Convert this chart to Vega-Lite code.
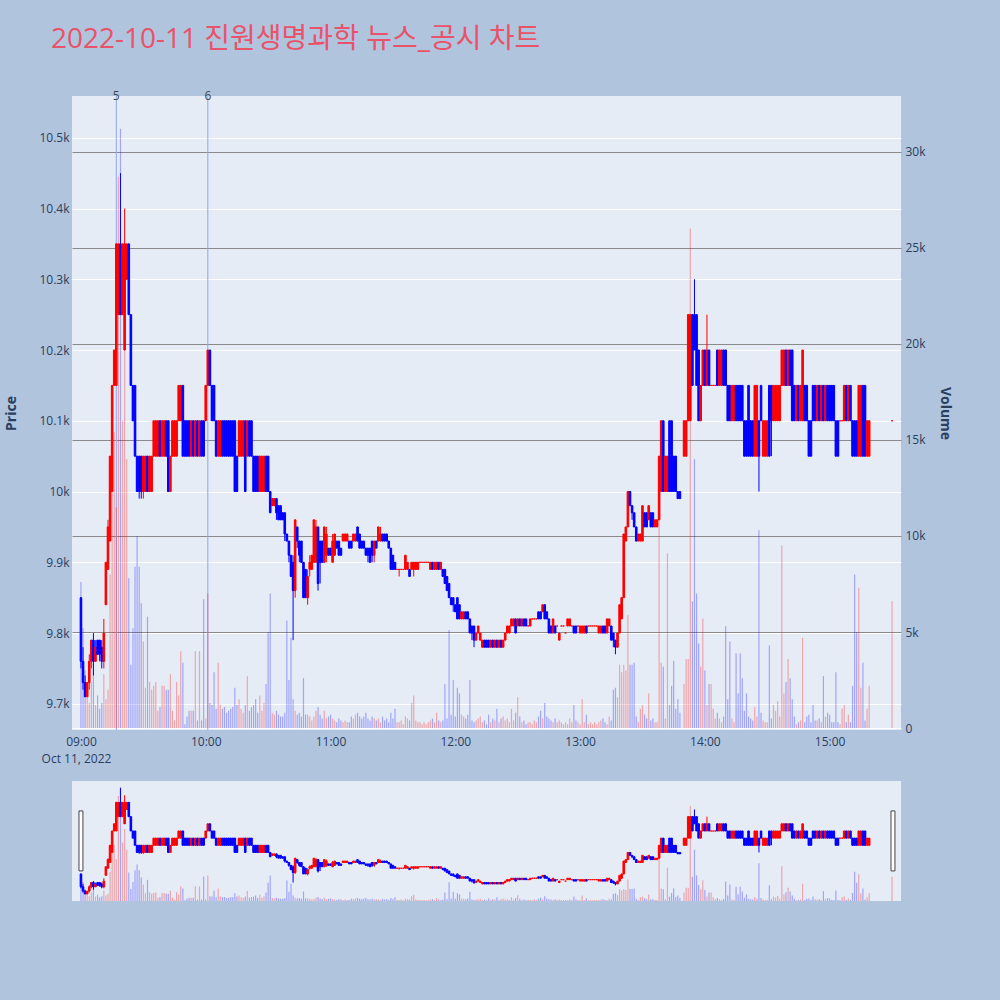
{
"$schema": "https://vega.github.io/schema/vega-lite/v6.json",
"background": "#B0C4DE",
"padding": {"left": 4, "top": 26, "right": 48, "bottom": 102},
"title": {"text": "2022-10-11 진원생명과학 뉴스_공시 차트", "anchor": "start", "fontSize": 28, "font": "Open Sans, Noto Sans CJK KR", "fontWeight": "normal", "color": "#E8536A", "dx": 46, "offset": 36},
"config": {"view": {"fill": "#E5ECF6", "stroke": null}, "font": "Open Sans", "axis": {"labelFont": "Open Sans", "labelFontSize": 12, "labelColor": "#2a3f5f", "titleColor": "#2a3f5f", "titleFont": "Open Sans", "ticks": false, "domain": false}},
"datasets": {
"candles": [
{"m":0,"o":9850,"h":9850,"l":9750,"c":9760,"v":7600},
{"m":1,"o":9760,"h":9780,"l":9720,"c":9730,"v":5200},
{"m":2,"o":9730,"h":9740,"l":9710,"c":9710,"v":3000},
{"m":3,"o":9710,"h":9730,"l":9710,"c":9730,"v":2000},
{"m":4,"o":9730,"h":9770,"l":9720,"c":9760,"v":1300},
{"m":5,"o":9760,"h":9790,"l":9750,"c":9790,"v":2400},
{"m":6,"o":9790,"h":9800,"l":9740,"c":9760,"v":3400},
{"m":7,"o":9760,"h":9790,"l":9760,"c":9780,"v":1200},
{"m":8,"o":9790,"h":9790,"l":9770,"c":9770,"v":1700},
{"m":9,"o":9790,"h":9790,"l":9760,"c":9770,"v":1000},
{"m":10,"o":9780,"h":9790,"l":9750,"c":9760,"v":1300},
{"m":11,"o":9760,"h":9820,"l":9750,"c":9800,"v":2800},
{"m":12,"o":9840,"h":9900,"l":9840,"c":9900,"v":1500},
{"m":13,"o":9890,"h":9960,"l":9890,"c":9950,"v":2000},
{"m":14,"o":9930,"h":10050,"l":9930,"c":10050,"v":8000},
{"m":15,"o":10000,"h":10150,"l":10000,"c":10150,"v":15600},
{"m":16,"o":10150,"h":10200,"l":10150,"c":10200,"v":15400},
{"m":17,"o":10150,"h":10350,"l":10150,"c":10350,"v":11500},
{"m":18,"o":10250,"h":10350,"l":10250,"c":10350,"v":28700},
{"m":19,"o":10350,"h":10450,"l":10250,"c":10250,"v":31200},
{"m":20,"o":10250,"h":10350,"l":10250,"c":10350,"v":16000},
{"m":21,"o":10200,"h":10400,"l":10200,"c":10350,"v":19700},
{"m":22,"o":10300,"h":10350,"l":10300,"c":10350,"v":14000},
{"m":23,"o":10350,"h":10350,"l":10250,"c":10250,"v":7800},
{"m":24,"o":10250,"h":10250,"l":10150,"c":10150,"v":3300},
{"m":25,"o":10150,"h":10150,"l":10100,"c":10100,"v":5200},
{"m":26,"o":10150,"h":10150,"l":10050,"c":10050,"v":8400},
{"m":27,"o":10050,"h":10050,"l":10000,"c":10000,"v":10000},
{"m":28,"o":10050,"h":10050,"l":9990,"c":10000,"v":8400},
{"m":29,"o":10050,"h":10050,"l":9990,"c":10000,"v":6500},
{"m":30,"o":10000,"h":10050,"l":9990,"c":10050,"v":4500},
{"m":31,"o":10000,"h":10050,"l":10000,"c":10050,"v":2100},
{"m":32,"o":10050,"h":10050,"l":10000,"c":10000,"v":5800},
{"m":33,"o":10000,"h":10050,"l":10000,"c":10050,"v":2400},
{"m":34,"o":10000,"h":10050,"l":10000,"c":10050,"v":2000},
{"m":35,"o":10050,"h":10100,"l":10050,"c":10100,"v":2200},
{"m":36,"o":10050,"h":10100,"l":10050,"c":10100,"v":2400},
{"m":37,"o":10050,"h":10100,"l":10050,"c":10100,"v":900},
{"m":38,"o":10100,"h":10100,"l":10050,"c":10050,"v":1100},
{"m":39,"o":10050,"h":10100,"l":10050,"c":10100,"v":2200},
{"m":40,"o":10050,"h":10100,"l":10050,"c":10100,"v":2200},
{"m":41,"o":10100,"h":10100,"l":10050,"c":10050,"v":2000},
{"m":42,"o":10100,"h":10100,"l":10000,"c":10000,"v":2000},
{"m":43,"o":10000,"h":10050,"l":10000,"c":10050,"v":2800},
{"m":44,"o":10050,"h":10100,"l":10050,"c":10100,"v":900},
{"m":45,"o":10050,"h":10100,"l":10050,"c":10100,"v":400},
{"m":46,"o":10050,"h":10100,"l":10050,"c":10100,"v":2400},
{"m":47,"o":10100,"h":10150,"l":10100,"c":10150,"v":1700},
{"m":48,"o":10100,"h":10150,"l":10100,"c":10150,"v":4000},
{"m":49,"o":10150,"h":10150,"l":10050,"c":10050,"v":3400},
{"m":50,"o":10100,"h":10100,"l":10050,"c":10050,"v":200},
{"m":51,"o":10100,"h":10100,"l":10050,"c":10050,"v":600},
{"m":52,"o":10100,"h":10100,"l":10050,"c":10050,"v":900},
{"m":53,"o":10050,"h":10100,"l":10050,"c":10100,"v":900},
{"m":54,"o":10100,"h":10100,"l":10050,"c":10050,"v":900},
{"m":55,"o":10050,"h":10100,"l":10050,"c":10100,"v":4000},
{"m":56,"o":10100,"h":10100,"l":10050,"c":10050,"v":400},
{"m":57,"o":10050,"h":10100,"l":10050,"c":10100,"v":4000},
{"m":58,"o":10100,"h":10100,"l":10050,"c":10050,"v":400},
{"m":59,"o":10100,"h":10100,"l":10050,"c":10050,"v":6700},
{"m":60,"o":10100,"h":10150,"l":10100,"c":10150,"v":500},
{"m":61,"o":10150,"h":10200,"l":10150,"c":10200,"v":7000},
{"m":62,"o":10200,"h":10200,"l":10150,"c":10150,"v":1300},
{"m":63,"o":10150,"h":10150,"l":10100,"c":10100,"v":1200},
{"m":64,"o":10150,"h":10150,"l":10100,"c":10100,"v":2900},
{"m":65,"o":10100,"h":10100,"l":10050,"c":10050,"v":1000},
{"m":66,"o":10050,"h":10100,"l":10050,"c":10100,"v":3400},
{"m":67,"o":10050,"h":10100,"l":10050,"c":10100,"v":1200},
{"m":68,"o":10100,"h":10100,"l":10050,"c":10050,"v":1000},
{"m":69,"o":10100,"h":10100,"l":10050,"c":10050,"v":1100},
{"m":70,"o":10100,"h":10100,"l":10050,"c":10050,"v":800},
{"m":71,"o":10100,"h":10100,"l":10050,"c":10050,"v":900},
{"m":72,"o":10100,"h":10100,"l":10050,"c":10050,"v":1000},
{"m":73,"o":10100,"h":10100,"l":10050,"c":10050,"v":1100},
{"m":74,"o":10100,"h":10100,"l":10000,"c":10000,"v":2100},
{"m":75,"o":10050,"h":10050,"l":10000,"c":10000,"v":1200},
{"m":76,"o":10050,"h":10100,"l":10050,"c":10100,"v":1500},
{"m":77,"o":10050,"h":10100,"l":10050,"c":10100,"v":1000},
{"m":78,"o":10050,"h":10100,"l":10050,"c":10100,"v":800},
{"m":79,"o":10100,"h":10100,"l":10000,"c":10000,"v":1200},
{"m":80,"o":10050,"h":10100,"l":10050,"c":10100,"v":2700},
{"m":81,"o":10100,"h":10100,"l":10050,"c":10050,"v":900},
{"m":82,"o":10100,"h":10100,"l":10050,"c":10050,"v":1100},
{"m":83,"o":10050,"h":10050,"l":10000,"c":10000,"v":1200},
{"m":84,"o":10050,"h":10050,"l":10000,"c":10000,"v":1500},
{"m":85,"o":10050,"h":10050,"l":10000,"c":10000,"v":800},
{"m":86,"o":10000,"h":10050,"l":10000,"c":10050,"v":1700},
{"m":87,"o":10000,"h":10050,"l":10000,"c":10050,"v":900},
{"m":88,"o":10000,"h":10050,"l":10000,"c":10050,"v":1300},
{"m":89,"o":10050,"h":10050,"l":10000,"c":10000,"v":2300},
{"m":90,"o":10050,"h":10050,"l":10000,"c":10000,"v":5000},
{"m":91,"o":10000,"h":10000,"l":9970,"c":9970,"v":7000},
{"m":92,"o":9980,"h":9990,"l":9980,"c":9990,"v":800},
{"m":93,"o":9980,"h":9990,"l":9980,"c":9990,"v":700},
{"m":94,"o":9990,"h":9990,"l":9960,"c":9970,"v":900},
{"m":95,"o":9980,"h":9980,"l":9960,"c":9960,"v":700},
{"m":96,"o":9980,"h":9980,"l":9960,"c":9960,"v":600},
{"m":97,"o":9970,"h":9970,"l":9960,"c":9960,"v":600},
{"m":98,"o":9970,"h":9970,"l":9930,"c":9940,"v":800},
{"m":99,"o":9940,"h":9940,"l":9930,"c":9930,"v":5600},
{"m":100,"o":9930,"h":9930,"l":9900,"c":9910,"v":2500},
{"m":101,"o":9910,"h":9910,"l":9880,"c":9880,"v":4700},
{"m":102,"o":9900,"h":9910,"l":9790,"c":9860,"v":1500},
{"m":103,"o":9860,"h":9960,"l":9850,"c":9960,"v":900},
{"m":104,"o":9950,"h":9950,"l":9920,"c":9930,"v":700},
{"m":105,"o":9930,"h":9930,"l":9900,"c":9910,"v":800},
{"m":106,"o":9930,"h":9930,"l":9900,"c":9900,"v":600},
{"m":107,"o":9900,"h":9900,"l":9850,"c":9850,"v":2600},
{"m":108,"o":9890,"h":9890,"l":9850,"c":9850,"v":700},
{"m":109,"o":9850,"h":9890,"l":9840,"c":9880,"v":700},
{"m":110,"o":9890,"h":9910,"l":9880,"c":9900,"v":600},
{"m":111,"o":9890,"h":9910,"l":9890,"c":9910,"v":400},
{"m":112,"o":9900,"h":9960,"l":9900,"c":9960,"v":600},
{"m":113,"o":9900,"h":9960,"l":9900,"c":9950,"v":900},
{"m":114,"o":9950,"h":9950,"l":9860,"c":9870,"v":1100},
{"m":115,"o":9930,"h":9930,"l":9870,"c":9900,"v":700},
{"m":116,"o":9930,"h":9930,"l":9900,"c":9900,"v":500},
{"m":117,"o":9900,"h":9950,"l":9900,"c":9950,"v":900},
{"m":118,"o":9910,"h":9950,"l":9900,"c":9940,"v":500},
{"m":119,"o":9920,"h":9920,"l":9910,"c":9910,"v":600},
{"m":120,"o":9920,"h":9920,"l":9910,"c":9910,"v":700},
{"m":121,"o":9900,"h":9940,"l":9900,"c":9930,"v":500},
{"m":122,"o":9910,"h":9940,"l":9910,"c":9940,"v":400},
{"m":123,"o":9930,"h":9930,"l":9920,"c":9920,"v":300},
{"m":124,"o":9930,"h":9930,"l":9910,"c":9910,"v":500},
{"m":125,"o":9920,"h":9920,"l":9910,"c":9910,"v":400},
{"m":126,"o":9930,"h":9940,"l":9930,"c":9940,"v":300},
{"m":127,"o":9930,"h":9940,"l":9930,"c":9940,"v":400},
{"m":128,"o":9930,"h":9940,"l":9930,"c":9940,"v":300},
{"m":129,"o":9930,"h":9930,"l":9920,"c":9920,"v":300},
{"m":130,"o":9930,"h":9930,"l":9920,"c":9920,"v":600},
{"m":131,"o":9930,"h":9940,"l":9930,"c":9940,"v":500},
{"m":132,"o":9930,"h":9940,"l":9930,"c":9940,"v":700},
{"m":133,"o":9950,"h":9950,"l":9930,"c":9930,"v":800},
{"m":134,"o":9940,"h":9940,"l":9920,"c":9920,"v":600},
{"m":135,"o":9930,"h":9930,"l":9920,"c":9920,"v":500},
{"m":136,"o":9930,"h":9930,"l":9920,"c":9920,"v":600},
{"m":137,"o":9920,"h":9920,"l":9910,"c":9910,"v":800},
{"m":138,"o":9920,"h":9920,"l":9900,"c":9910,"v":500},
{"m":139,"o":9920,"h":9920,"l":9900,"c":9900,"v":400},
{"m":140,"o":9930,"h":9930,"l":9900,"c":9910,"v":600},
{"m":141,"o":9910,"h":9930,"l":9900,"c":9930,"v":500},
{"m":142,"o":9930,"h":9930,"l":9920,"c":9920,"v":400},
{"m":143,"o":9930,"h":9950,"l":9930,"c":9950,"v":500},
{"m":144,"o":9930,"h":9950,"l":9930,"c":9940,"v":300},
{"m":145,"o":9940,"h":9940,"l":9930,"c":9930,"v":600},
{"m":146,"o":9940,"h":9940,"l":9930,"c":9930,"v":400},
{"m":147,"o":9940,"h":9940,"l":9930,"c":9930,"v":500},
{"m":148,"o":9930,"h":9930,"l":9920,"c":9920,"v":300},
{"m":149,"o":9920,"h":9920,"l":9890,"c":9890,"v":800},
{"m":150,"o":9910,"h":9910,"l":9890,"c":9890,"v":500},
{"m":151,"o":9900,"h":9900,"l":9890,"c":9890,"v":1000},
{"m":152,"o":9890,"h":9890,"l":9890,"c":9890,"v":300},
{"m":153,"o":9890,"h":9890,"l":9880,"c":9890,"v":300},
{"m":154,"o":9890,"h":9890,"l":9890,"c":9890,"v":400},
{"m":155,"o":9890,"h":9890,"l":9890,"c":9890,"v":200},
{"m":156,"o":9890,"h":9910,"l":9890,"c":9910,"v":600},
{"m":157,"o":9890,"h":9900,"l":9890,"c":9900,"v":500},
{"m":158,"o":9890,"h":9890,"l":9880,"c":9880,"v":400},
{"m":159,"o":9890,"h":9900,"l":9890,"c":9900,"v":1300},
{"m":160,"o":9890,"h":9900,"l":9880,"c":9900,"v":1700},
{"m":161,"o":9890,"h":9900,"l":9890,"c":9900,"v":400},
{"m":162,"o":9890,"h":9900,"l":9890,"c":9900,"v":300},
{"m":163,"o":9900,"h":9900,"l":9900,"c":9900,"v":300},
{"m":164,"o":9900,"h":9900,"l":9900,"c":9900,"v":200},
{"m":165,"o":9900,"h":9900,"l":9900,"c":9900,"v":300},
{"m":166,"o":9900,"h":9900,"l":9900,"c":9900,"v":200},
{"m":167,"o":9900,"h":9900,"l":9900,"c":9900,"v":300},
{"m":168,"o":9890,"h":9900,"l":9890,"c":9900,"v":400},
{"m":169,"o":9900,"h":9900,"l":9890,"c":9890,"v":500},
{"m":170,"o":9890,"h":9900,"l":9890,"c":9900,"v":300},
{"m":171,"o":9890,"h":9900,"l":9890,"c":9900,"v":800},
{"m":172,"o":9900,"h":9900,"l":9890,"c":9890,"v":400},
{"m":173,"o":9890,"h":9900,"l":9890,"c":9900,"v":300},
{"m":174,"o":9890,"h":9890,"l":9880,"c":9880,"v":400},
{"m":175,"o":9890,"h":9890,"l":9870,"c":9870,"v":2300},
{"m":176,"o":9880,"h":9880,"l":9860,"c":9860,"v":500},
{"m":177,"o":9870,"h":9870,"l":9850,"c":9850,"v":5100},
{"m":178,"o":9850,"h":9850,"l":9840,"c":9840,"v":700},
{"m":179,"o":9850,"h":9850,"l":9830,"c":9840,"v":2500},
{"m":180,"o":9840,"h":9840,"l":9830,"c":9830,"v":600},
{"m":181,"o":9850,"h":9850,"l":9820,"c":9820,"v":2100},
{"m":182,"o":9840,"h":9840,"l":9820,"c":9820,"v":1800},
{"m":183,"o":9820,"h":9830,"l":9820,"c":9830,"v":700},
{"m":184,"o":9820,"h":9830,"l":9820,"c":9830,"v":600},
{"m":185,"o":9830,"h":9830,"l":9820,"c":9820,"v":500},
{"m":186,"o":9830,"h":9830,"l":9820,"c":9820,"v":700},
{"m":187,"o":9820,"h":9820,"l":9800,"c":9800,"v":2500},
{"m":188,"o":9810,"h":9810,"l":9790,"c":9800,"v":400},
{"m":189,"o":9810,"h":9810,"l":9780,"c":9790,"v":300},
{"m":190,"o":9790,"h":9800,"l":9790,"c":9800,"v":400},
{"m":191,"o":9800,"h":9810,"l":9800,"c":9810,"v":500},
{"m":192,"o":9790,"h":9800,"l":9790,"c":9800,"v":600},
{"m":193,"o":9780,"h":9790,"l":9780,"c":9790,"v":300},
{"m":194,"o":9790,"h":9790,"l":9780,"c":9780,"v":400},
{"m":195,"o":9790,"h":9790,"l":9780,"c":9780,"v":200},
{"m":196,"o":9790,"h":9790,"l":9780,"c":9780,"v":700},
{"m":197,"o":9780,"h":9790,"l":9780,"c":9790,"v":300},
{"m":198,"o":9790,"h":9790,"l":9780,"c":9780,"v":500},
{"m":199,"o":9780,"h":9790,"l":9780,"c":9790,"v":400},
{"m":200,"o":9790,"h":9790,"l":9780,"c":9780,"v":1000},
{"m":201,"o":9780,"h":9790,"l":9780,"c":9790,"v":300},
{"m":202,"o":9790,"h":9790,"l":9780,"c":9780,"v":500},
{"m":203,"o":9780,"h":9790,"l":9780,"c":9790,"v":600},
{"m":204,"o":9790,"h":9800,"l":9790,"c":9800,"v":400},
{"m":205,"o":9800,"h":9810,"l":9800,"c":9810,"v":500},
{"m":206,"o":9800,"h":9810,"l":9800,"c":9810,"v":300},
{"m":207,"o":9810,"h":9820,"l":9810,"c":9820,"v":1000},
{"m":208,"o":9810,"h":9820,"l":9810,"c":9820,"v":400},
{"m":209,"o":9820,"h":9820,"l":9800,"c":9800,"v":800},
{"m":210,"o":9810,"h":9820,"l":9810,"c":9820,"v":1600},
{"m":211,"o":9820,"h":9820,"l":9810,"c":9810,"v":600},
{"m":212,"o":9810,"h":9820,"l":9810,"c":9820,"v":300},
{"m":213,"o":9820,"h":9820,"l":9810,"c":9810,"v":400},
{"m":214,"o":9820,"h":9820,"l":9810,"c":9810,"v":200},
{"m":215,"o":9810,"h":9810,"l":9810,"c":9810,"v":300},
{"m":216,"o":9810,"h":9820,"l":9810,"c":9820,"v":300},
{"m":217,"o":9820,"h":9820,"l":9820,"c":9820,"v":200},
{"m":218,"o":9820,"h":9820,"l":9820,"c":9820,"v":400},
{"m":219,"o":9820,"h":9820,"l":9820,"c":9820,"v":300},
{"m":220,"o":9830,"h":9830,"l":9820,"c":9820,"v":600},
{"m":221,"o":9830,"h":9830,"l":9820,"c":9820,"v":900},
{"m":222,"o":9830,"h":9840,"l":9830,"c":9840,"v":500},
{"m":223,"o":9840,"h":9840,"l":9820,"c":9820,"v":1300},
{"m":224,"o":9830,"h":9830,"l":9820,"c":9820,"v":600},
{"m":225,"o":9820,"h":9820,"l":9800,"c":9800,"v":500},
{"m":226,"o":9810,"h":9810,"l":9800,"c":9800,"v":400},
{"m":227,"o":9800,"h":9820,"l":9800,"c":9820,"v":300},
{"m":228,"o":9810,"h":9810,"l":9800,"c":9800,"v":500},
{"m":229,"o":9810,"h":9810,"l":9810,"c":9810,"v":300},
{"m":230,"o":9790,"h":9800,"l":9790,"c":9800,"v":400},
{"m":231,"o":9810,"h":9810,"l":9810,"c":9810,"v":300},
{"m":232,"o":9810,"h":9810,"l":9810,"c":9810,"v":200},
{"m":233,"o":9800,"h":9800,"l":9800,"c":9800,"v":300},
{"m":234,"o":9810,"h":9820,"l":9810,"c":9820,"v":200},
{"m":235,"o":9810,"h":9820,"l":9810,"c":9820,"v":500},
{"m":236,"o":9810,"h":9810,"l":9810,"c":9810,"v":300},
{"m":237,"o":9810,"h":9810,"l":9800,"c":9800,"v":1200},
{"m":238,"o":9810,"h":9810,"l":9800,"c":9800,"v":400},
{"m":239,"o":9810,"h":9810,"l":9810,"c":9810,"v":300},
{"m":240,"o":9800,"h":9810,"l":9800,"c":9810,"v":200},
{"m":241,"o":9800,"h":9810,"l":9800,"c":9810,"v":1500},
{"m":242,"o":9800,"h":9810,"l":9800,"c":9810,"v":300},
{"m":243,"o":9810,"h":9810,"l":9800,"c":9800,"v":700},
{"m":244,"o":9810,"h":9810,"l":9810,"c":9810,"v":200},
{"m":245,"o":9810,"h":9810,"l":9810,"c":9810,"v":300},
{"m":246,"o":9810,"h":9810,"l":9810,"c":9810,"v":200},
{"m":247,"o":9810,"h":9810,"l":9810,"c":9810,"v":300},
{"m":248,"o":9810,"h":9810,"l":9810,"c":9810,"v":200},
{"m":249,"o":9800,"h":9810,"l":9800,"c":9810,"v":300},
{"m":250,"o":9800,"h":9810,"l":9800,"c":9810,"v":400},
{"m":251,"o":9810,"h":9810,"l":9800,"c":9800,"v":500},
{"m":252,"o":9810,"h":9810,"l":9800,"c":9800,"v":300},
{"m":253,"o":9800,"h":9820,"l":9800,"c":9820,"v":200},
{"m":254,"o":9810,"h":9820,"l":9810,"c":9820,"v":600},
{"m":255,"o":9810,"h":9810,"l":9790,"c":9790,"v":400},
{"m":256,"o":9800,"h":9800,"l":9780,"c":9790,"v":2000},
{"m":257,"o":9790,"h":9790,"l":9770,"c":9780,"v":2100},
{"m":258,"o":9780,"h":9800,"l":9780,"c":9800,"v":1600},
{"m":259,"o":9800,"h":9840,"l":9800,"c":9840,"v":3300},
{"m":260,"o":9820,"h":9850,"l":9820,"c":9850,"v":2900},
{"m":261,"o":9850,"h":9940,"l":9850,"c":9940,"v":3300},
{"m":262,"o":9930,"h":9950,"l":9930,"c":9950,"v":3000},
{"m":263,"o":9950,"h":10000,"l":9950,"c":10000,"v":5900},
{"m":264,"o":10000,"h":10000,"l":9980,"c":9980,"v":3300},
{"m":265,"o":9980,"h":9980,"l":9960,"c":9970,"v":3300},
{"m":266,"o":9970,"h":9970,"l":9950,"c":9950,"v":3400},
{"m":267,"o":9950,"h":9950,"l":9930,"c":9930,"v":600},
{"m":268,"o":9930,"h":9940,"l":9930,"c":9940,"v":300},
{"m":269,"o":9930,"h":9940,"l":9930,"c":9940,"v":1000},
{"m":270,"o":9930,"h":9980,"l":9930,"c":9980,"v":1200},
{"m":271,"o":9970,"h":9970,"l":9950,"c":9950,"v":700},
{"m":272,"o":9970,"h":9970,"l":9950,"c":9950,"v":500},
{"m":273,"o":9960,"h":9980,"l":9960,"c":9980,"v":1800},
{"m":274,"o":9970,"h":9970,"l":9950,"c":9950,"v":400},
{"m":275,"o":9970,"h":9970,"l":9950,"c":9950,"v":500},
{"m":276,"o":9950,"h":9960,"l":9950,"c":9960,"v":300},
{"m":277,"o":9950,"h":9960,"l":9950,"c":9960,"v":300},
{"m":278,"o":9960,"h":10050,"l":9960,"c":10050,"v":14100},
{"m":279,"o":10000,"h":10100,"l":10000,"c":10100,"v":3400},
{"m":280,"o":10100,"h":10100,"l":10000,"c":10000,"v":3200},
{"m":281,"o":10000,"h":10050,"l":10000,"c":10050,"v":500},
{"m":282,"o":10000,"h":10050,"l":10000,"c":10050,"v":9100},
{"m":283,"o":10100,"h":10100,"l":10000,"c":10000,"v":1200},
{"m":284,"o":10100,"h":10100,"l":10000,"c":10000,"v":2200},
{"m":285,"o":10050,"h":10050,"l":10000,"c":10000,"v":3500},
{"m":286,"o":10050,"h":10050,"l":10000,"c":10000,"v":1000},
{"m":287,"o":10000,"h":10000,"l":9990,"c":9990,"v":1500},
{"m":288,"o":10000,"h":10000,"l":9990,"c":9990,"v":800},
{"m":290,"o":10050,"h":10100,"l":10050,"c":10100,"v":2300},
{"m":291,"o":10050,"h":10100,"l":10050,"c":10100,"v":3600},
{"m":292,"o":10100,"h":10250,"l":10100,"c":10250,"v":3600},
{"m":293,"o":10100,"h":10250,"l":10100,"c":10250,"v":26000},
{"m":294,"o":10250,"h":10250,"l":10150,"c":10150,"v":6600},
{"m":295,"o":10250,"h":10300,"l":10200,"c":10200,"v":14000},
{"m":296,"o":10250,"h":10250,"l":10150,"c":10150,"v":7000},
{"m":297,"o":10200,"h":10200,"l":10100,"c":10100,"v":4400},
{"m":298,"o":10100,"h":10150,"l":10100,"c":10150,"v":3200},
{"m":299,"o":10150,"h":10200,"l":10150,"c":10200,"v":5700},
{"m":300,"o":10200,"h":10200,"l":10150,"c":10150,"v":3000},
{"m":301,"o":10150,"h":10250,"l":10150,"c":10200,"v":1200},
{"m":302,"o":10200,"h":10200,"l":10150,"c":10150,"v":2300},
{"m":303,"o":10150,"h":10150,"l":10150,"c":10150,"v":2300},
{"m":304,"o":10150,"h":10150,"l":10150,"c":10150,"v":1000},
{"m":305,"o":10150,"h":10150,"l":10150,"c":10150,"v":500},
{"m":306,"o":10200,"h":10200,"l":10150,"c":10150,"v":800},
{"m":307,"o":10150,"h":10200,"l":10150,"c":10200,"v":500},
{"m":308,"o":10150,"h":10200,"l":10150,"c":10200,"v":300},
{"m":309,"o":10200,"h":10200,"l":10150,"c":10150,"v":600},
{"m":310,"o":10200,"h":10200,"l":10150,"c":10150,"v":5300},
{"m":311,"o":10150,"h":10150,"l":10100,"c":10100,"v":1500},
{"m":312,"o":10150,"h":10150,"l":10100,"c":10100,"v":4500},
{"m":313,"o":10100,"h":10150,"l":10100,"c":10150,"v":500},
{"m":314,"o":10100,"h":10150,"l":10100,"c":10150,"v":300},
{"m":315,"o":10150,"h":10150,"l":10100,"c":10100,"v":3900},
{"m":316,"o":10150,"h":10150,"l":10100,"c":10100,"v":1800},
{"m":317,"o":10150,"h":10150,"l":10100,"c":10100,"v":3900},
{"m":318,"o":10150,"h":10150,"l":10100,"c":10100,"v":2600},
{"m":319,"o":10100,"h":10100,"l":10050,"c":10050,"v":900},
{"m":320,"o":10100,"h":10100,"l":10050,"c":10050,"v":1800},
{"m":321,"o":10150,"h":10150,"l":10050,"c":10050,"v":600},
{"m":322,"o":10100,"h":10100,"l":10050,"c":10050,"v":500},
{"m":323,"o":10100,"h":10100,"l":10050,"c":10050,"v":400},
{"m":324,"o":10050,"h":10150,"l":10050,"c":10150,"v":1100},
{"m":325,"o":10050,"h":10150,"l":10050,"c":10150,"v":600},
{"m":326,"o":10100,"h":10100,"l":10000,"c":10050,"v":10300},
{"m":327,"o":10150,"h":10150,"l":10100,"c":10100,"v":800},
{"m":328,"o":10050,"h":10100,"l":10050,"c":10100,"v":400},
{"m":329,"o":10050,"h":10100,"l":10050,"c":10100,"v":300},
{"m":330,"o":10050,"h":10100,"l":10050,"c":10100,"v":300},
{"m":331,"o":10150,"h":10150,"l":10050,"c":10050,"v":4300},
{"m":332,"o":10150,"h":10150,"l":10050,"c":10100,"v":500},
{"m":333,"o":10100,"h":10150,"l":10100,"c":10150,"v":1200},
{"m":334,"o":10100,"h":10150,"l":10100,"c":10150,"v":900},
{"m":335,"o":10100,"h":10150,"l":10100,"c":10150,"v":1400},
{"m":336,"o":10100,"h":10150,"l":10100,"c":10150,"v":600},
{"m":337,"o":10150,"h":10200,"l":10150,"c":10200,"v":9500},
{"m":338,"o":10150,"h":10200,"l":10150,"c":10200,"v":1800},
{"m":339,"o":10200,"h":10200,"l":10150,"c":10150,"v":2400},
{"m":340,"o":10150,"h":10200,"l":10150,"c":10200,"v":3600},
{"m":341,"o":10200,"h":10200,"l":10150,"c":10150,"v":2600},
{"m":342,"o":10200,"h":10200,"l":10100,"c":10100,"v":1500},
{"m":343,"o":10150,"h":10150,"l":10100,"c":10100,"v":600},
{"m":344,"o":10100,"h":10150,"l":10100,"c":10150,"v":200},
{"m":345,"o":10150,"h":10150,"l":10100,"c":10100,"v":300},
{"m":346,"o":10100,"h":10150,"l":10100,"c":10150,"v":400},
{"m":347,"o":10100,"h":10200,"l":10100,"c":10200,"v":4700},
{"m":348,"o":10150,"h":10150,"l":10100,"c":10100,"v":300},
{"m":349,"o":10150,"h":10150,"l":10100,"c":10100,"v":600},
{"m":350,"o":10100,"h":10100,"l":10050,"c":10050,"v":700},
{"m":351,"o":10100,"h":10100,"l":10050,"c":10050,"v":300},
{"m":352,"o":10150,"h":10150,"l":10100,"c":10100,"v":1200},
{"m":353,"o":10150,"h":10150,"l":10100,"c":10100,"v":400},
{"m":354,"o":10100,"h":10150,"l":10100,"c":10150,"v":400},
{"m":355,"o":10150,"h":10150,"l":10100,"c":10100,"v":500},
{"m":356,"o":10100,"h":10150,"l":10100,"c":10150,"v":300},
{"m":357,"o":10150,"h":10150,"l":10100,"c":10100,"v":2700},
{"m":358,"o":10100,"h":10150,"l":10100,"c":10150,"v":600},
{"m":359,"o":10150,"h":10150,"l":10100,"c":10100,"v":800},
{"m":360,"o":10150,"h":10150,"l":10100,"c":10100,"v":700},
{"m":361,"o":10150,"h":10150,"l":10100,"c":10100,"v":300},
{"m":362,"o":10150,"h":10150,"l":10100,"c":10100,"v":300},
{"m":363,"o":10100,"h":10100,"l":10050,"c":10050,"v":2900},
{"m":364,"o":10100,"h":10100,"l":10050,"c":10050,"v":300},
{"m":365,"o":10100,"h":10100,"l":10100,"c":10100,"v":200},
{"m":366,"o":10100,"h":10100,"l":10100,"c":10100,"v":1000},
{"m":367,"o":10100,"h":10150,"l":10100,"c":10150,"v":1200},
{"m":368,"o":10150,"h":10150,"l":10100,"c":10100,"v":300},
{"m":369,"o":10100,"h":10150,"l":10100,"c":10150,"v":700},
{"m":370,"o":10150,"h":10150,"l":10100,"c":10100,"v":300},
{"m":371,"o":10100,"h":10100,"l":10050,"c":10050,"v":2200},
{"m":372,"o":10100,"h":10100,"l":10050,"c":10050,"v":8000},
{"m":373,"o":10100,"h":10100,"l":10050,"c":10050,"v":5000},
{"m":374,"o":10050,"h":10150,"l":10050,"c":10150,"v":7300},
{"m":375,"o":10050,"h":10150,"l":10050,"c":10150,"v":2100},
{"m":376,"o":10150,"h":10150,"l":10050,"c":10050,"v":3400},
{"m":377,"o":10150,"h":10150,"l":10050,"c":10050,"v":400},
{"m":378,"o":10050,"h":10100,"l":10050,"c":10100,"v":1000},
{"m":379,"o":10050,"h":10100,"l":10050,"c":10100,"v":2200},
{"m":390,"o":10100,"h":10100,"l":10100,"c":10100,"v":6600}
],
"news": [{"m":17,"n":"5"},{"m":61,"n":"6"}]
},
"vconcat": [
{
"width": 829, "height": 634,
"layer": [
{
"layer": [
{"data": {"name": "news"}, "mark": {"type": "rule", "color": "#8FA4F0", "strokeWidth": 1},
 "encoding": {"x": {"field": "m", "type": "quantitative", "scale": {"domain": [-1.9, 391.9], "nice": false, "zero": false}}}},
{"data": {"name": "news"}, "mark": {"type": "text", "fontSize": 12, "color": "#444444", "baseline": "middle", "font": "Open Sans"},
 "encoding": {"x": {"field": "m", "type": "quantitative", "scale": {"domain": [-1.9, 391.9], "nice": false, "zero": false}},
  "y": {"datum": 10559, "type": "quantitative", "scale": {"domain": [9663, 10559], "zero": false, "nice": false}}, "text": {"field": "n"}}},
{"data": {"name": "candles"}, "mark": {"type": "rule", "strokeWidth": 1},
 "encoding": {
  "x": {"field": "m", "type": "quantitative", "scale": {"domain": [-1.9, 391.9], "nice": false, "zero": false},
   "axis": {"title": "Oct 11, 2022", "titleAnchor": "start", "titleAlign": "center", "titleX": 4, "titleY": 23, "titleBaseline": "top", "titleFontSize": 12, "titleFontWeight": "normal", "grid": false, "values": [0,60,120,180,240,300,360], "labelExpr": "(datum.value < 60 ? '0' : '') + (datum.value / 60 + 9) + ':00'", "labelPadding": 6, "labelBaseline": "top"}},
  "y": {"field": "l", "type": "quantitative", "scale": {"domain": [9663, 10559], "zero": false, "nice": false},
   "axis": {"title": "Price", "orient": "left", "grid": true, "values": [9700,9800,9900,10000,10100,10200,10300,10400,10500], "labelExpr": "datum.value / 1000 + 'k'", "gridColor": "#FFFFFF", "gridWidth": 1, "gridOpacity": 1, "labelPadding": 3, "titlePadding": 20, "titleFontSize": 14, "titleFontWeight": "bold"}},
  "y2": {"field": "h"},
  "color": {"condition": {"test": "datum.c >= datum.o", "value": "#FF0000"}, "value": "#0000FF"}
 }},
{"data": {"name": "candles"}, "mark": {"type": "bar", "size": 1.6, "strokeWidth": 1},
 "encoding": {
  "x": {"field": "m", "type": "quantitative", "scale": {"domain": [-1.9, 391.9], "nice": false, "zero": false}},
  "y": {"field": "o", "type": "quantitative", "scale": {"domain": [9663, 10559], "zero": false, "nice": false}},
  "y2": {"field": "c"},
  "color": {"condition": {"test": "datum.c >= datum.o", "value": "#FF0000"}, "value": "#0000FF"},
  "stroke": {"condition": {"test": "datum.c >= datum.o", "value": "#FF0000"}, "value": "#0000FF"}
 }}
]
},
{"data": {"name": "candles"}, "mark": {"type": "bar", "size": 1.2, "opacity": 0.3},
 "encoding": {
  "x": {"field": "m", "type": "quantitative", "scale": {"domain": [-1.9, 391.9], "nice": false, "zero": false}},
  "y": {"field": "v", "type": "quantitative", "scale": {"domain": [-100, 32900], "nice": false, "zero": false},
   "axis": {"title": "Volume", "orient": "right", "grid": true, "values": [0,5000,10000,15000,20000,25000,30000], "labelExpr": "datum.value == 0 ? '0' : datum.value / 1000 + 'k'", "gridColor": {"condition": {"test": "datum.value === 0", "value": "#FFFFFF"}, "value": "#8A8A8A"}, "gridWidth": 1, "gridOpacity": 1, "labelPadding": 4, "titlePadding": 12, "titleFontSize": 14, "titleFontWeight": "bold"}},
  "color": {"condition": {"test": "datum.c >= datum.o", "value": "#FF0000"}, "value": "#0000FF"}
 }}
],
"resolve": {"scale": {"y": "independent"}}
},
{
"width": 829, "height": 120,
"layer": [
{
"layer": [
{"data": {"name": "candles"}, "mark": {"type": "rule", "strokeWidth": 1},
 "encoding": {
  "x": {"field": "m", "type": "quantitative", "scale": {"domain": [-1.9, 391.9], "nice": false, "zero": false}, "axis": null},
  "y": {"field": "l", "type": "quantitative", "scale": {"domain": [9661, 10499], "zero": false, "nice": false}, "axis": null},
  "y2": {"field": "h"},
  "color": {"condition": {"test": "datum.c >= datum.o", "value": "#FF0000"}, "value": "#0000FF"}
 }},
{"data": {"name": "candles"}, "mark": {"type": "bar", "size": 1.6, "strokeWidth": 1},
 "encoding": {
  "x": {"field": "m", "type": "quantitative", "scale": {"domain": [-1.9, 391.9], "nice": false, "zero": false}, "axis": null},
  "y": {"field": "o", "type": "quantitative", "scale": {"domain": [9661, 10499], "zero": false, "nice": false}, "axis": null},
  "y2": {"field": "c"},
  "color": {"condition": {"test": "datum.c >= datum.o", "value": "#FF0000"}, "value": "#0000FF"},
  "stroke": {"condition": {"test": "datum.c >= datum.o", "value": "#FF0000"}, "value": "#0000FF"}
 }},
{"data": {"values": [{}]}, "mark": {"type": "rect", "fill": "#FFFFFF", "stroke": "#444444", "strokeWidth": 1},
 "encoding": {
  "x": {"datum": -0.95, "type": "quantitative", "scale": {"domain": [-1.9, 391.9], "nice": false, "zero": false}, "axis": null},
  "x2": {"datum": 0.95},
  "y": {"datum": 10290, "type": "quantitative", "scale": {"domain": [9661, 10499], "zero": false, "nice": false}, "axis": null},
  "y2": {"datum": 9871}
 }},
{"data": {"values": [{}]}, "mark": {"type": "rect", "fill": "#FFFFFF", "stroke": "#444444", "strokeWidth": 1},
 "encoding": {
  "x": {"datum": 389.5, "type": "quantitative", "scale": {"domain": [-1.9, 391.9], "nice": false, "zero": false}, "axis": null},
  "x2": {"datum": 391.4},
  "y": {"datum": 10290, "type": "quantitative", "scale": {"domain": [9661, 10499], "zero": false, "nice": false}, "axis": null},
  "y2": {"datum": 9871}
 }}
]
},
{"data": {"name": "candles"}, "mark": {"type": "bar", "size": 1.2, "opacity": 0.3},
 "encoding": {
  "x": {"field": "m", "type": "quantitative", "scale": {"domain": [-1.9, 391.9], "nice": false, "zero": false}, "axis": null},
  "y": {"field": "v", "type": "quantitative", "scale": {"domain": [0, 32800], "nice": false}, "axis": null},
  "color": {"condition": {"test": "datum.c >= datum.o", "value": "#FF0000"}, "value": "#0000FF"}
 }}
],
"resolve": {"scale": {"y": "independent"}}
}
],
"spacing": 17
}
